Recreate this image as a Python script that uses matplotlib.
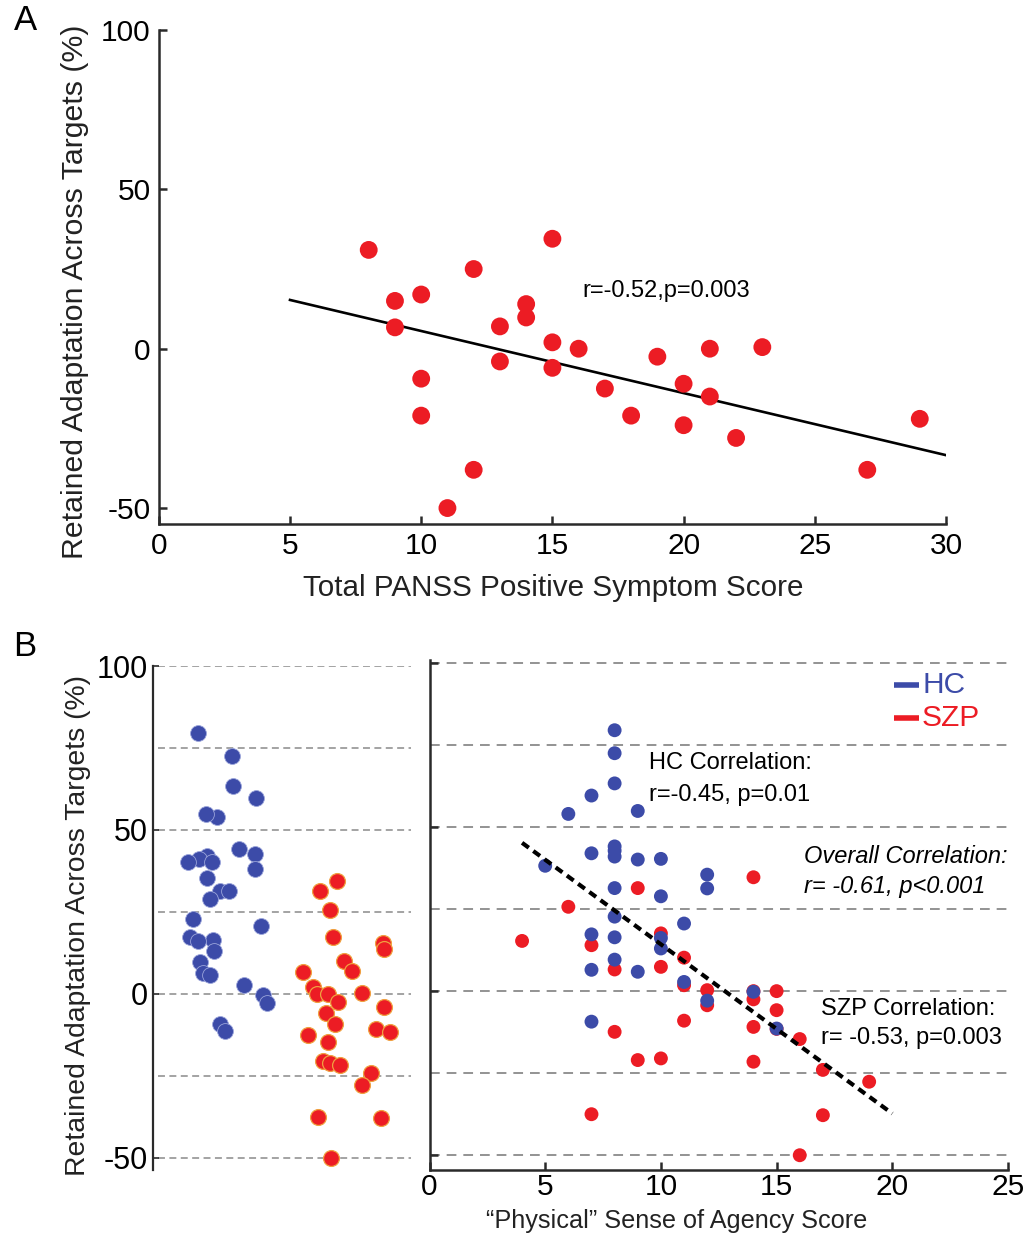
import matplotlib
matplotlib.use("Agg")
import matplotlib.pyplot as plt

plt.rcParams['font.family'] = ['Liberation Sans', 'DejaVu Sans']
plt.rcParams['lines.scale_dashes'] = False
plt.rcParams['axes.unicode_minus'] = False

RED = '#ec1c24'
BLUE = '#3c4ba8'
GRID = '#8a8a8a'
SPINE = '#2a2a2a'

# ---------------- Panel A data ----------------
panss_score = [8, 9, 9, 10, 10, 10, 11, 12, 12, 13, 13, 14, 14, 15, 15, 15,
               16, 17, 18, 19, 20, 20, 21, 21, 22, 23, 27, 29]
panss_retained = [31, 15, 6.7, 17, -9.4, -21, -50, 25, -38, 7, -4, 14, 9.8, 34.5, 2, -6,
                  0, -12.5, -21, -2.5, -11, -24, 0, -15, -28, 0.5, -38, -22]
panss_fit_x = [5, 30]
panss_fit_y = [15.3, -33.4]
panss_xticks = [0, 5, 10, 15, 20, 25, 30]
panss_yticks = [-50, 0, 50, 100]

# ---------------- Panel B data ----------------
# HC: agency score, retained adaptation, strip jitter position
hc_agency = [8, 8, 8, 7, 6, 9, 8, 8, 7, 8, 10, 9, 5, 12, 8, 12,
             10, 8, 11, 7, 8, 10, 10, 8, 7, 9, 11, 14, 12, 7, 15]
hc_retained = [79.5, 72.5, 63.3, 59.6, 54.0, 54.9, 44.1, 42.8, 42.0, 41.0, 40.3, 40.1, 38.2, 35.5, 31.4, 31.3,
               28.9, 22.7, 20.6, 17.3, 16.4, 16.2, 13.0, 9.6, 6.5, 5.9, 2.8, -0.2, -2.9, -9.3, -11.4]
hc_jitter = [1.63, 2.87, 2.93, 3.76, 2.35, 1.93, 3.15, 3.73, 1.96, 1.69, 1.29, 2.14, 3.73, 1.98, 2.45, 2.79,
             2.08, 1.45, 3.95, 1.35, 2.20, 1.63, 2.24, 1.72, 1.84, 2.08, 3.31, 4.03, 4.15, 2.45, 2.63]

# SZP strip (retained adaptation, jitter position)
szp_strip_retained = [34.5, 31.3, 25.6, 17.3, 15.5, 13.8, 9.9, 7.1, 6.8, 2.2, -0.1, 0, 0.4, -2.5, -4.1,
                      -5.7, -9.2, -10.8, -11.5, -12.5, -14.8, -20.6, -21.1, -21.6, -24.2, -27.7, -37.4, -37.9, -50.1]
szp_jitter = [6.73, 6.09, 6.46, 6.58, 8.38, 8.44, 6.98, 7.27, 5.49, 5.85, 5.97, 6.38, 7.64, 6.74, 8.44,
              6.30, 6.64, 8.13, 8.65, 5.67, 6.38, 6.19, 6.46, 6.82, 7.96, 7.64, 6.03, 8.32, 6.50]

# SZP scatter (agency score, retained adaptation)
szp_agency = [4, 6, 7, 8, 9, 10, 10, 11, 11, 12, 12, 11, 8, 9, 10, 7, 14, 15, 15,
              14, 14, 16, 17, 17, 19, 16, 14, 14, 15]
szp_retained = [15.3, 25.7, 14, 6.6, 31.4, 17.6, 7.4, 10.2, 1.8, 0.3, -4.3, -9, -12.4, -21, -20.5, -37.5, -2.5, 0, -5.8,
                -10.9, -21.5, -14.6, -24, -37.8, -27.6, -50, 34.7, 0, -11.5]

overall_fit_x = [4, 20]
overall_fit_y = [45.2, -37.3]

grid_levels = [100, 75, 50, 25, 0, -25, -50]
strip_yticks = [-50, 0, 50, 100]
agency_xticks = [0, 5, 10, 15, 20, 25]

W, H = 1034, 1238
fig = plt.figure(figsize=(W / 100, H / 100), dpi=100)


def px_axes(left, top, right, bottom):
    return fig.add_axes([left / W, 1 - bottom / H, (right - left) / W, (bottom - top) / H])


def style(ax, lw=1.8):
    for s in ['top', 'right']:
        ax.spines[s].set_visible(False)
    for s in ['left', 'bottom']:
        ax.spines[s].set_linewidth(lw)
        ax.spines[s].set_color(SPINE)
    ax.tick_params(direction='in', length=6, width=lw, color=SPINE)


# ---------------- Panel A ----------------
axA = px_axes(158.8, 30, 946, 524)
style(axA)
axA.scatter(panss_score, panss_retained, s=165, color=RED, edgecolors='none', zorder=3)
axA.plot(panss_fit_x, panss_fit_y, color='black', lw=1.9, zorder=2)
axA.set_xlim(0, 30)
axA.set_ylim(-55, 100)
axA.set_xticks(panss_xticks)
axA.set_yticks(panss_yticks)
axA.tick_params(axis='both', labelsize=21.5)
axA.tick_params(axis='y', pad=6)
axA.tick_params(axis='x', pad=6)
axA.text(16.15, 18.1, 'r=-0.52,p=0.003', fontsize=17, va='center', ha='left')
fig.text(553 / W, 1 - 588 / H, 'Total PANSS Positive Symptom Score', fontsize=21.3,
         ha='center', va='center', color='#222222')
fig.text(75 / W, 1 - 292 / H, 'Retained Adaptation Across Targets (%)', fontsize=21.8,
         rotation=90, ha='center', va='center', color='#222222')
fig.text(25 / W, 1 - 21 / H, 'A', fontsize=25, ha='center', va='center')

# ---------------- Panel B strip ----------------
axS = px_axes(153, 666, 427, 1170)
for s in ['top', 'right', 'bottom']:
    axS.spines[s].set_visible(False)
axS.spines['left'].set_linewidth(1.6)
axS.spines['left'].set_color(SPINE)
axS.tick_params(axis='y', direction='in', length=4, width=1.2, color=SPINE, labelsize=22, pad=4)
axS.set_xticks([])
axS.set_xlim(0, 10)
axS.set_ylim(-53.7, 100)
axS.set_yticks(strip_yticks)
for g in grid_levels:
    axS.axhline(g, xmin=0.02, xmax=0.94, color=GRID, lw=1.1, ls=(0, (5, 3.2)), zorder=1)
axS.scatter(hc_jitter, hc_retained, s=130, color=BLUE, edgecolors='#9aa4da', linewidths=0.6, zorder=3)
axS.scatter(szp_jitter, szp_strip_retained, s=130, color=RED, edgecolors='#f0a040', linewidths=0.9, zorder=3)

fig.text(78 / W, 1 - 926 / H, 'Retained Adaptation Across Targets (%)', fontsize=20.4,
         rotation=90, ha='center', va='center', color='#222222')
fig.text(25 / W, 1 - 647 / H, 'B', fontsize=25, ha='center', va='center')

# ---------------- Panel B scatter ----------------
axB = px_axes(429.5, 660, 1008, 1170)
style(axB, lw=1.8)
axB.set_xlim(0, 25)
axB.set_ylim(-54.5, 100.9)
axB.set_xticks(agency_xticks)
axB.set_yticks(strip_yticks)
axB.set_yticklabels([])
axB.tick_params(axis='x', labelsize=21.5, pad=2)
for g in grid_levels:
    axB.axhline(g, color=GRID, lw=1.3, ls=(0, (7, 5)), zorder=1)
axB.scatter(szp_agency, szp_retained, s=100, color=RED, edgecolors='none', zorder=3)
axB.scatter(hc_agency, hc_retained, s=100, color=BLUE, edgecolors='none', zorder=4)
axB.plot(overall_fit_x, overall_fit_y, color='black', lw=3, ls=(0, (6, 4)), zorder=5)

axB.text(9.5, 69.5, 'HC Correlation:', fontsize=17, va='center', ha='left')
axB.text(9.5, 59.8, 'r=-0.45, p=0.01', fontsize=17, va='center', ha='left')
axB.text(16.2, 40.9, 'Overall Correlation:', fontsize=17, va='center', ha='left', style='italic')
axB.text(16.2, 31.8, 'r= -0.61, p<0.001', fontsize=17, va='center', ha='left', style='italic')
axB.text(16.9, -5.3, 'SZP Correlation:', fontsize=17, va='center', ha='left')
axB.text(16.9, -14.4, 'r= -0.53, p=0.003', fontsize=17, va='center', ha='left')

# legend swatches
axB.plot([20.08, 21.16], [93.3, 93.3], color=BLUE, lw=4, solid_capstyle='butt', zorder=6)
axB.plot([20.08, 21.16], [83.2, 83.2], color=RED, lw=4, solid_capstyle='butt', zorder=6)
axB.text(21.3, 93.3, 'HC', color=BLUE, fontsize=21.5, va='center', ha='left')
axB.text(21.25, 83.2, 'SZP', color=RED, fontsize=21.5, va='center', ha='left')

fig.text(677 / W, 1 - 1221 / H, '\u201cPhysical\u201d Sense of Agency Score', fontsize=18.2,
         ha='center', va='center', color='#222222')

fig.savefig('out.png', dpi=100)
